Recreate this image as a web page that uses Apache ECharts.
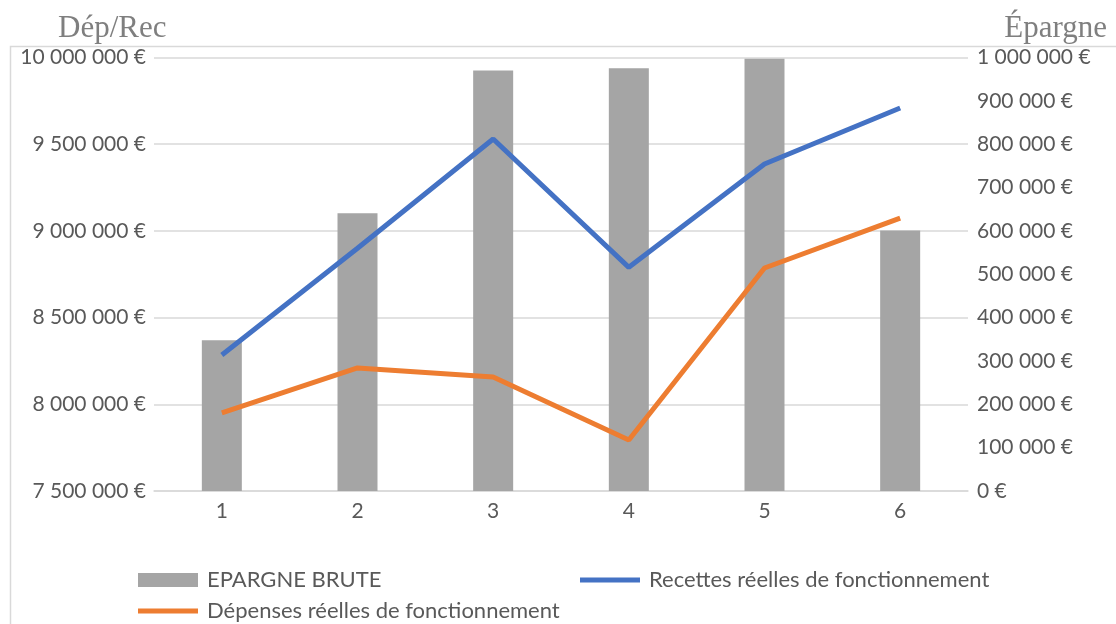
<!DOCTYPE html>
<html><head><meta charset="utf-8">
<script src="https://cdn.jsdelivr.net/npm/echarts@6/dist/echarts.min.js"></script>
<style>html,body{margin:0;padding:0;background:#fff}#c{width:1116px;height:624px}</style>
</head><body><div id="c"></div>
<script>
const categories = ['1', '2', '3', '4', '5', '6'];
const epargneBrute = [348000, 641000, 970000, 975000, 997000, 601000];
const recettes = [8284000, 8900000, 9530000, 8790000, 9386000, 9709000];
const depenses = [7950000, 8210000, 8157000, 7794000, 8786000, 9074000];
const seriesNames = ['EPARGNE BRUTE', 'Recettes réelles de fonctionnement', 'Dépenses réelles de fonctionnement'];
const axisTitles = ['Dép/Rec', 'Épargne'];

function fmt(v) {
  return String(Math.round(v)).replace(/\B(?=(\d{3})+(?!\d))/g, ' ') + ' €';
}
const labelColor = '#595959';
const gridColor = '#d9d9d9';
const font = 'Lato';
const legendText = {fontFamily: font, fontSize: 22, color: labelColor, lineHeight: 24, padding: [0, 0, 0, 4]};

const chart = echarts.init(document.getElementById('c'), null, {renderer: 'canvas'});
chart.setOption({
  animation: false,
  backgroundColor: '#fff',
  grid: {left: 154, right: 148, top: 57.5, bottom: 133, containLabel: false},
  graphic: [
    {type: 'rect', shape: {x: 10.5, y: 46.5, width: 1200, height: 700}, style: {fill: 'none', stroke: gridColor, lineWidth: 1.5}, silent: true, z: -1},
    {type: 'text', x: 58, y: 29, style: {text: axisTitles[0], font: '31px "Liberation Serif"', fill: '#7f7f7f', textAlign: 'left', textVerticalAlign: 'middle'}},
    {type: 'text', x: 1107, y: 29, style: {text: axisTitles[1], font: '31px "Liberation Serif"', fill: '#7f7f7f', textAlign: 'right', textVerticalAlign: 'middle'}}
  ],
  legend: [
    {data: [seriesNames[0]], left: 138, top: 568, padding: 0, icon: 'rect', itemWidth: 60, itemHeight: 14, textStyle: legendText},
    {data: [seriesNames[1]], left: 580, top: 568, padding: 0, icon: 'rect', itemWidth: 60, itemHeight: 5, textStyle: legendText},
    {data: [seriesNames[2]], left: 138, top: 599, padding: 0, icon: 'rect', itemWidth: 60, itemHeight: 5, textStyle: legendText}
  ],
  xAxis: {
    type: 'category', data: categories,
    axisLine: {show: true, lineStyle: {color: gridColor, width: 1.5}},
    axisTick: {show: false},
    axisLabel: {fontFamily: font, fontSize: 21, color: labelColor, margin: 10}
  },
  yAxis: [
    {type: 'value', min: 7500000, max: 10000000, interval: 500000, position: 'left',
     axisLine: {show: false}, axisTick: {show: false},
     axisLabel: {formatter: fmt, fontFamily: font, fontSize: 21, color: labelColor, margin: 8},
     splitLine: {show: true, lineStyle: {color: gridColor, width: 1.5}}},
    {type: 'value', min: 0, max: 1000000, interval: 100000, position: 'right',
     axisLine: {show: false}, axisTick: {show: false},
     axisLabel: {formatter: fmt, fontFamily: font, fontSize: 21, color: labelColor, margin: 9},
     splitLine: {show: false}}
  ],
  series: [
    {name: seriesNames[0], type: 'bar', yAxisIndex: 1, data: epargneBrute, barWidth: 40,
     itemStyle: {color: '#a5a5a5'}},
    {name: seriesNames[1], type: 'line', yAxisIndex: 0, data: recettes, symbol: 'none',
     lineStyle: {color: '#4472c4', width: 5}, itemStyle: {color: '#4472c4'}},
    {name: seriesNames[2], type: 'line', yAxisIndex: 0, data: depenses, symbol: 'none',
     lineStyle: {color: '#ed7d31', width: 5}, itemStyle: {color: '#ed7d31'}}
  ]
});
</script>
</body></html>
